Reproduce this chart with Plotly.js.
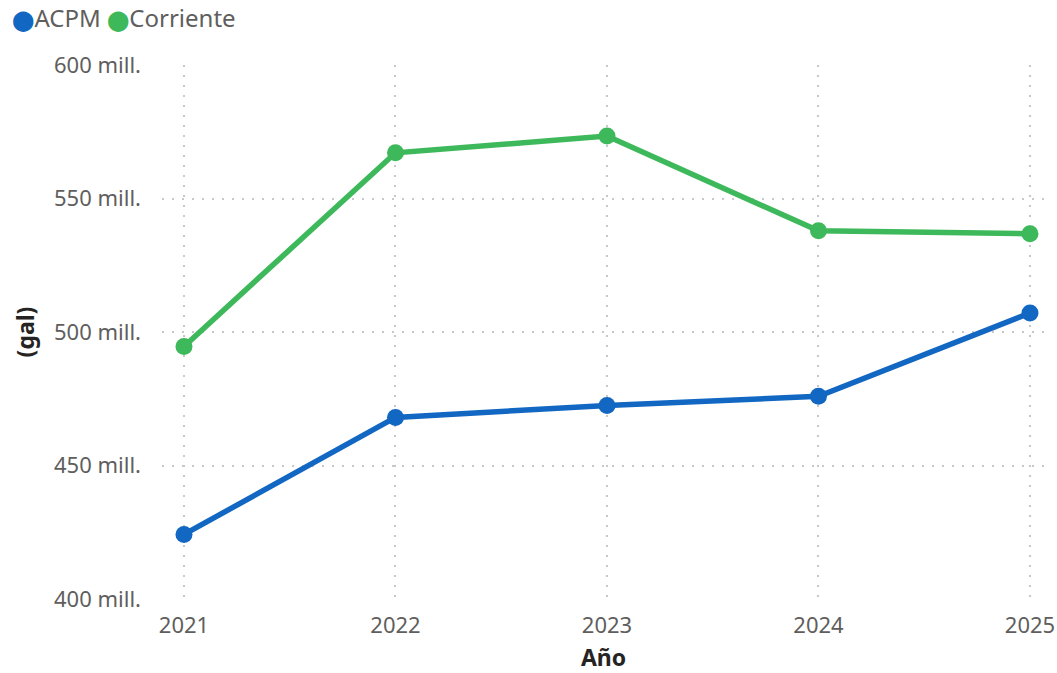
<!DOCTYPE html>
<html>
<head>
<meta charset="utf-8">
<script src="https://cdn.plot.ly/plotly-3.0.1.min.js"></script>
<style>html,body{margin:0;padding:0;background:#fff;}#chart{width:1057px;height:673px;}</style>
</head>
<body>
<div id="chart"></div>
<script>
const years = [2021, 2022, 2023, 2024, 2025];
const acpm = [424.2, 468.0, 472.5, 475.9, 507.1];
const corriente = [494.6, 567.1, 573.4, 537.9, 536.8];
const yTickVals = [400, 450, 500, 550, 600];
const yTickText = ['400 mill.', '450 mill.', '500 mill.', '550 mill.', '600 mill.'];
const seriesNames = ['ACPM', 'Corriente'];
const colors = ['#1167C1', '#3DB85A'];

const font = '"Noto Sans", "Open Sans", sans-serif';
const traces = [
  {x: years, y: acpm, name: seriesNames[0], mode: 'lines+markers', showlegend: false,
   line: {color: colors[0], width: 5.5}, marker: {color: colors[0], size: 17}},
  {x: years, y: corriente, name: seriesNames[1], mode: 'lines+markers', showlegend: false,
   line: {color: colors[1], width: 5.5}, marker: {color: colors[1], size: 17}}
];
const legendText = seriesNames.map((n, i) =>
  `<span style="color:${colors[i]};font-family:'DejaVu Sans';font-size:20px">⬤</span>${n}`).join(' ');
const layout = {
  width: 1057, height: 673,
  margin: {l: 162, r: 12, t: 65, b: 74},
  paper_bgcolor: '#fff', plot_bgcolor: '#fff',
  font: {family: font, color: '#605E5C'},
  showlegend: false,
  annotations: [{xref: 'paper', yref: 'paper', x: -162/883, y: 1 + 65/534, xanchor: 'left', yanchor: 'top',
                 yshift: 1, xshift: 10,
                 text: legendText, showarrow: false, align: 'left',
                 font: {size: 24, color: '#605E5C', family: font}}],
  xaxis: {range: [2020.896, 2025.071], tickvals: years, ticktext: years.map(String),
          showgrid: true, gridcolor: '#C8C8C8', griddash: '2px,8px', gridwidth: 2,
          zeroline: false, showline: false, ticks: '', ticklabelstandoff: 11,
          tickfont: {size: 22, color: '#605E5C', family: font},
          title: {text: 'Año', font: {size: 23, color: '#252423', family: font, weight: 'bold'}, standoff: 12}},
  yaxis: {range: [400, 600], tickvals: yTickVals, ticktext: yTickText,
          showgrid: true, gridcolor: '#C8C8C8', griddash: '2px,8px', gridwidth: 2,
          zeroline: false, showline: false, ticks: '', ticklabelstandoff: 20,
          tickfont: {size: 22, color: '#605E5C', family: font},
          title: {text: '(gal)', font: {size: 23, color: '#252423', family: font, weight: 'bold'}, standoff: 12}}
};
Plotly.newPlot('chart', traces, layout, {displayModeBar: false, staticPlot: true});
</script>
</body>
</html>
